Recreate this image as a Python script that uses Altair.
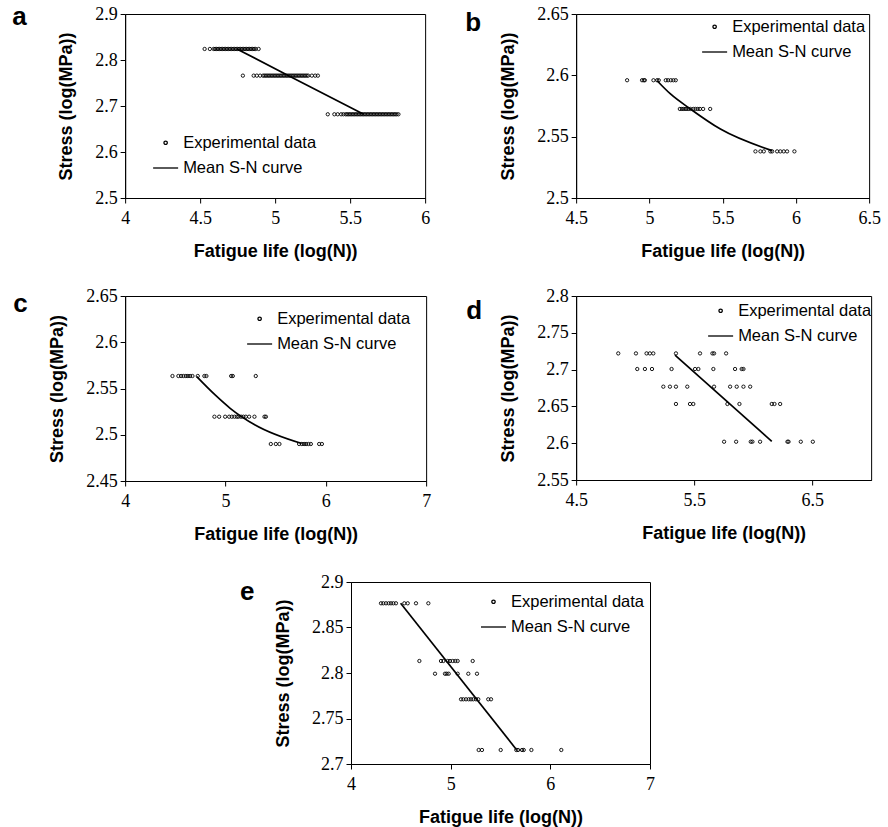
import altair as alt
import pandas as pd

EXP = "Experimental data"
MEAN = "Mean S-N curve"

# ---------------- panel a ----------------
A_LEVELS = [2.824, 2.766, 2.682]
A_X_L1 = [4.53, 4.565, 4.59, 4.60, 4.61, 4.62, 4.63, 4.64, 4.65, 4.66, 4.67, 4.68, 4.69, 4.70,
          4.71, 4.72, 4.73, 4.74, 4.75, 4.76, 4.77, 4.78, 4.79, 4.80, 4.81, 4.82, 4.83, 4.84,
          4.85, 4.86, 4.87, 4.89]
A_X_L2 = [4.785, 4.857, 4.878, 4.90, 4.92, 4.93, 4.94, 4.95, 4.96, 4.97, 4.98, 4.99, 5.00,
          5.01, 5.02, 5.03, 5.04, 5.05, 5.06, 5.07, 5.08, 5.09, 5.10, 5.11, 5.12, 5.13, 5.14,
          5.15, 5.16, 5.17, 5.18, 5.19, 5.20, 5.21, 5.22, 5.245, 5.267, 5.285]
A_X_L3 = [5.351, 5.395, 5.417, 5.44, 5.455, 5.47, 5.48, 5.49, 5.50, 5.51, 5.52, 5.53, 5.54,
          5.55, 5.56, 5.57, 5.58, 5.59, 5.60, 5.61, 5.62, 5.63, 5.64, 5.65, 5.66, 5.67, 5.68,
          5.69, 5.70, 5.71, 5.72, 5.73, 5.74, 5.75, 5.76, 5.77, 5.78, 5.79, 5.80, 5.81, 5.822]
A_LINE_X = [4.745, 5.09, 5.59]
A_LINE_Y = [2.824, 2.766, 2.682]

# ---------------- panel b ----------------
B_LEVELS = [2.596, 2.5726, 2.538]
B_X_L1 = [4.848, 4.95, 4.962, 4.969, 5.028, 5.053, 5.064, 5.112, 5.128, 5.146, 5.164, 5.18]
B_X_L2 = [5.208, 5.222, 5.235, 5.25, 5.265, 5.28, 5.30, 5.315, 5.33, 5.345, 5.367, 5.415]
B_X_L3 = [5.724, 5.758, 5.781, 5.826, 5.838, 5.872, 5.894, 5.917, 5.940, 5.990]
B_LINE_X = [5.053, 5.144, 5.28, 5.485, 5.838]
B_LINE_Y = [2.5956, 2.5848, 2.5726, 2.5562, 2.5386]

# ---------------- panel c ----------------
C_LEVELS = [2.5635, 2.5195, 2.49]
C_X_L1 = [4.472, 4.531, 4.558, 4.581, 4.605, 4.625, 4.648, 4.671, 4.724, 4.79, 4.81, 5.057,
          5.073, 5.302]
C_X_L2 = [4.890, 4.937, 4.997, 5.037, 5.063, 5.09, 5.113, 5.13, 5.156, 5.179, 5.203, 5.236,
          5.289, 5.389, 5.403]
C_X_L3 = [5.452, 5.502, 5.538, 5.734, 5.761, 5.784, 5.804, 5.827, 5.851, 5.934, 5.961]
C_LINE_X = [4.714, 4.897, 5.047, 5.296, 5.76]
C_LINE_Y = [2.5628, 2.543, 2.5286, 2.5105, 2.4905]

# ---------------- panel d ----------------
D_LEVELS = [2.722, 2.7008, 2.6768, 2.6533, 2.602]
D_X_L1 = [4.857, 5.007, 5.097, 5.125, 5.154, 5.346, 5.55, 5.655, 5.669, 5.771]
D_X_L2 = [5.018, 5.083, 5.143, 5.309, 5.508, 5.536, 5.663, 5.847, 5.903, 5.918]
D_X_L3 = [5.239, 5.295, 5.346, 5.442, 5.669, 5.805, 5.861, 5.918, 5.975]
D_X_L4 = [5.346, 5.465, 5.493, 5.782, 5.884, 6.158, 6.181, 6.229]
D_X_L5 = [5.754, 5.856, 5.98, 5.994, 6.059, 6.291, 6.30, 6.404, 6.506]
D_LINE_X = [5.338, 6.158]
D_LINE_Y = [2.7198, 2.6026]

# ---------------- panel e ----------------
E_LEVELS = [2.8766, 2.8132, 2.7992, 2.7711, 2.7154]
E_X_L1 = [4.301, 4.324, 4.351, 4.378, 4.401, 4.425, 4.451, 4.535, 4.569, 4.652, 4.776]
E_X_L2 = [4.686, 4.903, 4.927, 4.97, 4.993, 5.02, 5.047, 5.07, 5.221]
E_X_L3 = [4.843, 4.943, 4.96, 4.98, 5.07, 5.177, 5.264]
E_X_L4 = [5.104, 5.127, 5.154, 5.181, 5.204, 5.227, 5.254, 5.277, 5.377, 5.405]
E_X_L5 = [5.281, 5.314, 5.502, 5.659, 5.676, 5.716, 5.733, 5.81, 6.11]
E_LINE_X = [4.498, 5.659]
E_LINE_Y = [2.8766, 2.716]

XTITLE = "Fatigue life (log(N))"
YTITLE = "Stress (log(MPa))"
SERIF = "Liberation Serif, Times New Roman, serif"
SANS = "Liberation Sans, Arial, sans-serif"


def exp_frame(levels, rows):
    xs, ys = [], []
    for lvl, row in zip(levels, rows):
        xs += row
        ys += [lvl] * len(row)
    return pd.DataFrame({"life": xs, "stress": ys, "series": EXP})


def panel(letter, levels, rows, lx, ly, xdom, xvals, ydom, yvals, w, h,
          legx, legy, letx, lety, ghost=0):
    xenc = alt.X("life:Q", scale=alt.Scale(domain=xdom, nice=False, zero=False),
                 axis=alt.Axis(values=xvals, format=".4~g", title=XTITLE,
                               labelFont=SERIF, labelFontSize=18, labelPadding=6,
                               titlePadding=15))
    yenc = alt.Y("stress:Q", scale=alt.Scale(domain=ydom, nice=False, zero=False),
                 axis=alt.Axis(values=yvals, format=".4~g", title=YTITLE,
                               labelFont=SERIF, labelFontSize=18, labelPadding=3,
                               titlePadding=19))
    leg = alt.Legend(title=None, orient="none", legendX=legx, legendY=legy,
                     labelFont=SANS, labelFontSize=16.5, labelColor="black",
                     labelOffset=4, rowPadding=3, padding=0,
                     symbolStrokeColor="black", symbolStrokeWidth=1.3)
    pts = alt.Chart(exp_frame(levels, rows)).mark_point(
        filled=False, color="black", strokeWidth=0.9, opacity=1
    ).encode(
        x=xenc, y=yenc,
        shape=alt.Shape("series:N", scale=alt.Scale(domain=[EXP, MEAN], range=["circle", "stroke"]),
                        legend=leg),
        size=alt.Size("series:O", scale=alt.Scale(domain=[EXP, MEAN], range=[11, 625]),
                      legend=leg),
    )
    line = alt.Chart(pd.DataFrame({"life": lx, "stress": ly})).mark_line(
        color="black", strokeWidth=1.7, interpolate="monotone"
    ).encode(x=xenc, y=yenc)
    lab = alt.Chart(pd.DataFrame({"t": [letter]})).mark_text(
        align="left", baseline="alphabetic", font=SANS, fontWeight="bold",
        fontSize=26, color="black"
    ).encode(x=alt.value(letx), y=alt.value(lety), text="t:N")
    layers = [pts, line, lab]
    if ghost:
        layers.append(alt.Chart(pd.DataFrame({"t": [letter]})).mark_text(
            align="left", baseline="alphabetic", font=SANS, fontWeight="bold",
            fontSize=26, opacity=0
        ).encode(x=alt.value(letx - ghost), y=alt.value(lety), text="t:N"))
    return alt.layer(*layers).properties(width=w, height=h)


pa = panel("a", A_LEVELS, [A_X_L1, A_X_L2, A_X_L3], A_LINE_X, A_LINE_Y,
           [4, 6], [4, 4.5, 5, 5.5, 6], [2.5, 2.9], [2.5, 2.6, 2.7, 2.8, 2.9],
           300, 184, 27, 120.5, -113, 11)
pb = panel("b", B_LEVELS, [B_X_L1, B_X_L2, B_X_L3], B_LINE_X, B_LINE_Y,
           [4.5, 6.5], [4.5, 5, 5.5, 6, 6.5], [2.5, 2.65], [2.5, 2.55, 2.6, 2.65],
           293, 184, 125, 4.5, -111, 17)
pc = panel("c", C_LEVELS, [C_X_L1, C_X_L2, C_X_L3], C_LINE_X, C_LINE_Y,
           [4, 7], [4, 5, 6, 7], [2.45, 2.65], [2.45, 2.5, 2.55, 2.6, 2.65],
           301, 185, 121, 14.5, -112, 16)
pd_ = panel("d", D_LEVELS, [D_X_L1, D_X_L2, D_X_L3, D_X_L4, D_X_L5], D_LINE_X, D_LINE_Y,
            [4.5, 7], [4.5, 5.5, 6.5], [2.55, 2.8], [2.55, 2.6, 2.65, 2.7, 2.75, 2.8],
            295, 184, 131, 6.5, -110, 23)
pe = panel("e", E_LEVELS, [E_X_L1, E_X_L2, E_X_L3, E_X_L4, E_X_L5], E_LINE_X, E_LINE_Y,
           [4, 7], [4, 5, 6, 7], [2.7, 2.9], [2.7, 2.75, 2.8, 2.85, 2.9],
           299, 182, 129, 11.5, -111, 18, ghost=18)


def indep(c):
    return c.resolve_scale(shape="independent", size="independent", x="independent",
                           y="independent").resolve_legend(shape="independent",
                                                           size="independent")


row1 = indep(alt.hconcat(pa, pb, spacing=34))
row2 = indep(alt.hconcat(pc, pd_, spacing=34))
top = indep(alt.vconcat(row1, row2, spacing=25))
chart = indep(alt.vconcat(top, pe, spacing=28, center=True))

chart = chart.properties(
    padding={"left": 11, "top": 3, "right": 0, "bottom": 0}
).configure_view(
    stroke="black", strokeWidth=1
).configure_axis(
    grid=False, domainColor="black", tickColor="black", labelColor="black",
    titleColor="black", labelFont=SERIF, labelFontSize=18,
    titleFont=SANS, titleFontSize=18, titleFontWeight="bold",
    labelFlush=False, labelOverlap=False, tickSize=5, domainWidth=1, tickWidth=1
)

chart.save("out.html", embed_options={"renderer": "svg", "actions": False})
